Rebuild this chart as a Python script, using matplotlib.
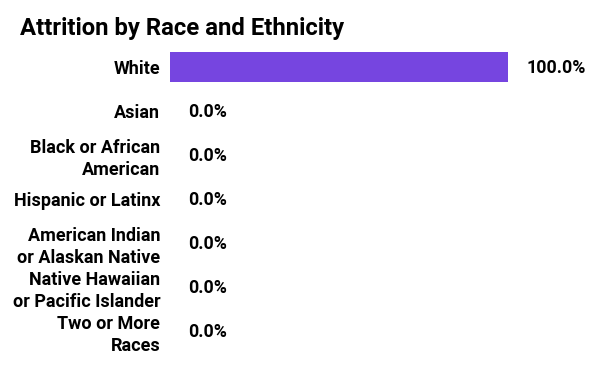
import matplotlib
matplotlib.use("Agg")
import matplotlib.pyplot as plt

plt.rcParams['font.family'] = ['Roboto', 'DejaVu Sans']

CATEGORIES = ["White", "Asian", "Black or African\nAmerican", "Hispanic or Latinx",
              "American Indian\nor Alaskan Native", "Native Hawaiian\nor Pacific Islander",
              "Two or More\nRaces"]
VALUES = [100.0, 0.0, 0.0, 0.0, 0.0, 0.0, 0.0]
BAR_COLOR = "#7645E0"

fig = plt.figure(figsize=(6, 3.71), dpi=100)
ax = fig.add_axes([170 / 600, 1 - 353 / 371, (508 - 170) / 600, 308 / 371])

ypos = list(range(len(CATEGORIES)))
ax.barh(ypos, VALUES, height=0.66, color=BAR_COLOR)
ax.set_xlim(0, 100)
ax.set_ylim(len(CATEGORIES) - 0.5, -0.5)
ax.set_yticks(ypos)
ax.set_yticklabels(CATEGORIES, fontsize=13, fontweight='bold', linespacing=1.28)
ax.tick_params(axis='y', length=0, pad=7)
ax.set_xticks([])
for s in ax.spines.values():
    s.set_visible(False)

for y, v in zip(ypos, VALUES):
    ax.annotate(f"{v:.1f}%", xy=(v, y), xytext=(13, -0.5), textcoords="offset points",
                ha='left', va='center', fontsize=12.8, fontweight='bold')

fig.text(20 / 600, 1 - 35 / 371, "Attrition by Race and Ethnicity",
         fontsize=17.2, fontweight='bold', va='baseline', ha='left')

fig.savefig("out.png", dpi=100)
